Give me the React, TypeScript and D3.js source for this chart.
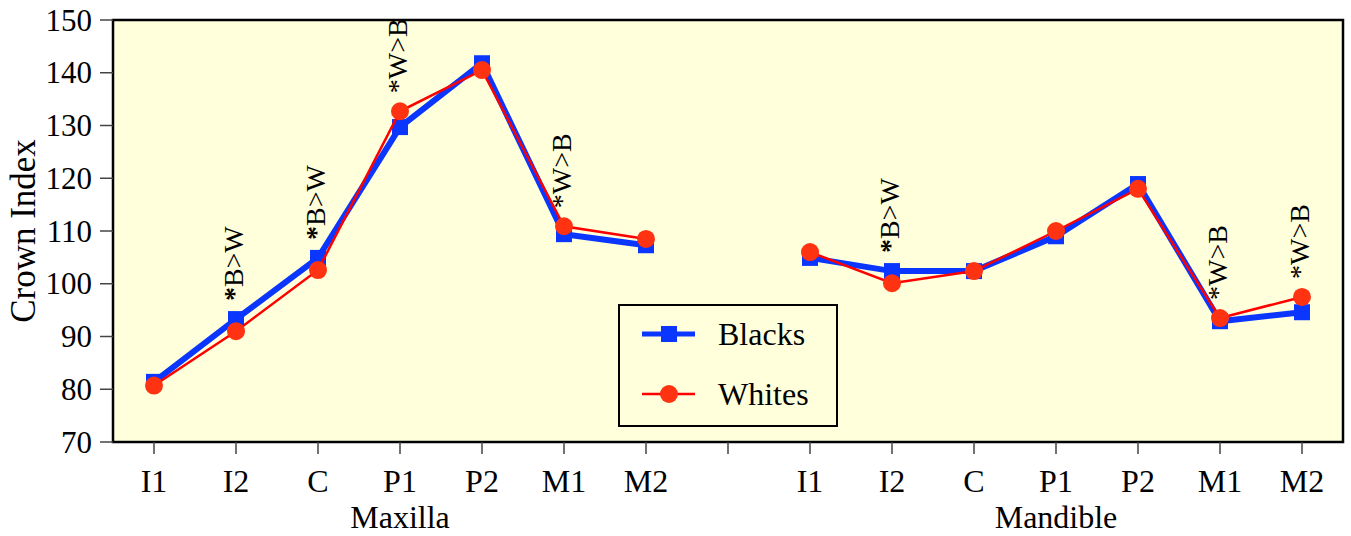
import * as d3 from "d3";

// teeth, same order for both jaws
const teeth = ["I1", "I2", "C", "P1", "P2", "M1", "M2"];
const jaws = ["Maxilla", "Mandible"];

// crown index values
const maxillaBlacks = [81.4, 93.3, 104.9, 129.7, 141.8, 109.4, 107.3];
const maxillaWhites = [80.7, 91.0, 102.6, 132.7, 140.5, 110.9, 108.5];
const mandibleBlacks = [104.9, 102.4, 102.4, 109.0, 118.9, 92.9, 94.6];
const mandibleWhites = [106.0, 100.1, 102.4, 110.0, 118.0, 93.5, 97.5];

// significance notes above each tooth
const maxillaNotes = ["", "*B>W", "*B>W", "*W>B", "", "*W>B", ""];
const mandibleNotes = ["", "*B>W", "", "", "", "*W>B", "*W>B"];

const yTicks = [70, 80, 90, 100, 110, 120, 130, 140, 150];

const W = 1351;
const H = 536;
const m = { top: 20, right: 8, bottom: 94, left: 113 };
const FONT = "Liberation Serif";
const BLUE = "#0a36ff";
const RED = "#ff0000";
const RED_FILL = "#ff3311";

export default function App() {
  // 7 maxilla slots, one empty slot, 7 mandible slots
  const slots = [
    ...teeth.map((t) => "max-" + t),
    "gap",
    ...teeth.map((t) => "man-" + t),
  ];
  const x = d3.scaleBand<string>().domain(slots).range([m.left, W - m.right]);
  const cx = (k: string) => (x(k) as number) + x.bandwidth() / 2;
  const y = d3.scaleLinear().domain([70, 150]).range([H - m.bottom, m.top]);

  const groups = [
    { prefix: "max-", blacks: maxillaBlacks, whites: maxillaWhites, notes: maxillaNotes },
    { prefix: "man-", blacks: mandibleBlacks, whites: mandibleWhites, notes: mandibleNotes },
  ];

  const line = d3
    .line<[number, number]>()
    .x((d) => d[0])
    .y((d) => d[1]);

  const plotBottom = H - m.bottom;

  return (
    <svg
      width={W}
      height={H}
      style={{ position: "absolute", left: 0, top: 0 }}
      fontFamily={FONT}
    >
      <rect x={0} y={0} width={W} height={H} fill="#fff" />
      <rect
        x={m.left}
        y={m.top}
        width={W - m.right - m.left}
        height={plotBottom - m.top}
        fill="#ffffdc"
        stroke="#000"
        strokeWidth={2.5}
      />

      {/* y axis */}
      {yTicks.map((t) => (
        <g key={t}>
          <line x1={m.left - 13} x2={m.left} y1={y(t)} y2={y(t)} stroke="#444" strokeWidth={1.5} />
          <text x={m.left - 21} y={y(t)} dy="0.34em" textAnchor="end" fontSize={31}>
            {t}
          </text>
        </g>
      ))}
      <text
        transform={`translate(35,${(m.top + plotBottom) / 2}) rotate(-90)`}
        textAnchor="middle"
        fontSize={35}
      >
        Crown Index
      </text>

      {/* x axis */}
      {slots.map((s) => (
        <g key={s}>
          <line x1={cx(s)} x2={cx(s)} y1={plotBottom} y2={plotBottom + 12} stroke="#444" strokeWidth={1.5} />
          {s !== "gap" && (
            <text x={cx(s)} y={plotBottom + 50} textAnchor="middle" fontSize={32}>
              {s.slice(4)}
            </text>
          )}
        </g>
      ))}
      {jaws.map((j, i) => (
        <text key={j} x={cx(groups[i].prefix + "P1")} y={plotBottom + 86} textAnchor="middle" fontSize={32}>
          {j}
        </text>
      ))}

      {/* series */}
      {groups.map((g) => {
        const pb = teeth.map((t, i) => [cx(g.prefix + t), y(g.blacks[i])] as [number, number]);
        const pw = teeth.map((t, i) => [cx(g.prefix + t), y(g.whites[i])] as [number, number]);
        return (
          <g key={g.prefix}>
            <path d={line(pb) ?? ""} fill="none" stroke={BLUE} strokeWidth={6} />
            {pb.map((p, i) => (
              <rect key={i} x={p[0] - 8} y={p[1] - 8} width={16} height={16} fill={BLUE} />
            ))}
            <path d={line(pw) ?? ""} fill="none" stroke={RED} strokeWidth={2.5} />
            {pw.map((p, i) => (
              <circle key={i} cx={p[0]} cy={p[1]} r={9} fill={RED_FILL} />
            ))}
            {g.notes.map((n, i) =>
              n ? (
                <text
                  key={"n" + i}
                  transform={`translate(${pb[i][0] + 7},${Math.min(pb[i][1], pw[i][1]) - 18}) rotate(-90)`}
                  fontSize={28}
                >
                  <tspan fontWeight={n.startsWith("*B") ? "bold" : "normal"}>*</tspan>
                  {n.slice(1)}
                </text>
              ) : null
            )}
          </g>
        );
      })}

      {/* legend */}
      <g transform="translate(619,305)">
        <rect width={218} height={121} fill="#ffffdc" stroke="#000" strokeWidth={2} />
        <line x1={23} x2={76} y1={29} y2={29} stroke={BLUE} strokeWidth={5} />
        <rect x={42} y={21} width={16} height={16} fill={BLUE} />
        <text x={99} y={29} dy="0.34em" fontSize={32}>Blacks</text>
        <line x1={23} x2={76} y1={89} y2={89} stroke={RED} strokeWidth={2.5} />
        <circle cx={50} cy={89} r={9} fill={RED_FILL} />
        <text x={99} y={89} dy="0.34em" fontSize={32}>Whites</text>
      </g>
    </svg>
  );
}
